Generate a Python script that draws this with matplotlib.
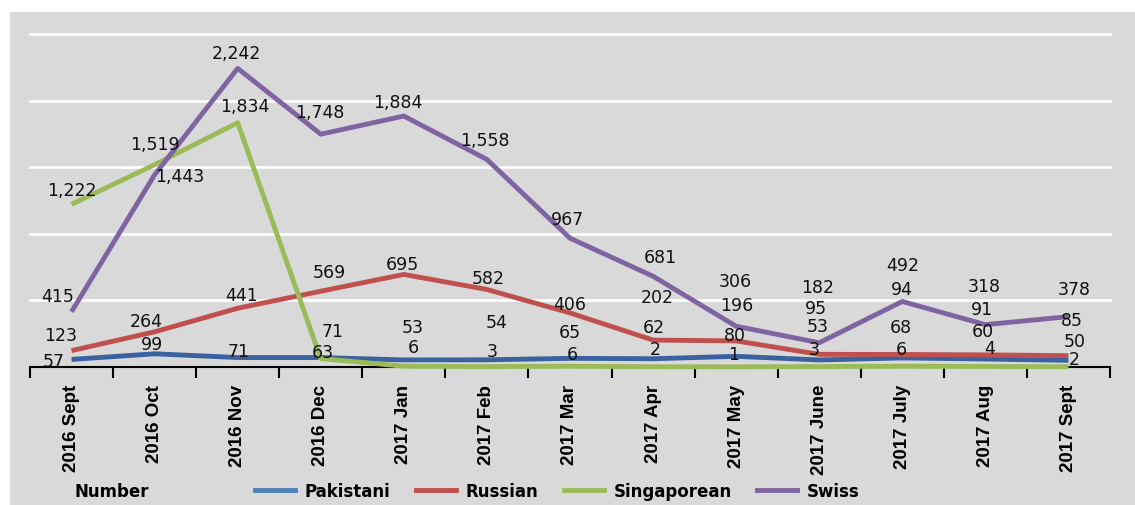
import matplotlib
matplotlib.use('Agg')
import matplotlib.pyplot as plt
from matplotlib.lines import Line2D
from matplotlib.patches import Rectangle

# ---------------- data ----------------
months = ["2016 Sept", "2016 Oct", "2016 Nov", "2016 Dec", "2017 Jan", "2017 Feb",
          "2017 Mar", "2017 Apr", "2017 May", "2017 June", "2017 July", "2017 Aug",
          "2017 Sept"]
pakistani = [57, 99, 71, 71, 53, 54, 65, 62, 80, 53, 68, 60, 50]
russian = [123, 264, 441, 569, 695, 582, 406, 202, 196, 95, 94, 91, 85]
singaporean = [1222, 1519, 1834, 63, 6, 3, 6, 2, 1, 3, 6, 4, 2]
swiss = [415, 1443, 2242, 1748, 1884, 1558, 967, 681, 306, 182, 492, 318, 378]
series_names = ["Pakistani", "Russian", "Singaporean", "Swiss"]

# ---------------- label offsets (pixels) ----------------
pak_off = [(-18, -2), (-3, 10), (1, 7), (12, 27), (9, 33), (10, 38), (0, 26),
           (1, 32), (-1, 21), (-2, 34), (-1, 31), (-3, 28), (6, 19)]
rus_off = [(-11, 16), (-8, 11), (4, 13), (9, 19), (-1, 10), (1, 11), (0, 9),
           (4, 43), (1, 36), (-3, 46), (0, 65), (-3, 46), (3, 36)]
sin_off = [(0, 14), (0, 21), (7, 17), (2, 7), (9, 19), (5, 16), (2, 12),
           (2, 18), (-3, 13), (-5, 18), (-1, 17), (4, 18), (6, 8)]
swi_off = [(-14, 16), (25, -1), (-1, 15), (-1, 22), (-6, 14), (-2, 19), (-3, 19),
           (7, 19), (-1, 45), (-2, 56), (0, 36), (-1, 39), (6, 28)]

line_colors = ["#3a62a0", "#c0504d", "#9bbb59", "#8064a2"]
legend_colors = ["#4f81bd", "#c0504d", "#9bbb59", "#8064a2"]
panel_grey = "#d9d9d9"

W, H = 1135, 506
fig = plt.figure(figsize=(W / 100, H / 100), dpi=100)
fig.patch.set_facecolor("white")
fig.patches.append(Rectangle((10 / W, 0), 1, (H - 13) / H, transform=fig.transFigure,
                             facecolor=panel_grey, edgecolor="none", zorder=-10))

ax = fig.add_axes([30 / W, 138 / H, 1080 / W, 333 / H])
ax.set_zorder(1)
ax.set_facecolor("none")
ax.set_xlim(0, len(months))
ax.set_ylim(0, 2500)

xs = [i + 0.5 for i in range(len(months))]

# gridlines
ax.set_yticks([500, 1000, 1500, 2000, 2500])
ax.yaxis.grid(True, color="white", linewidth=2)
for gl in ax.get_ygridlines():
    gl.set_clip_on(False)
ax.tick_params(axis="y", left=False, labelleft=False)
ax.set_axisbelow(True)

for side in ["left", "right", "top"]:
    ax.spines[side].set_visible(False)
ax.spines["bottom"].set_color("black")
ax.spines["bottom"].set_linewidth(1.5)

ax.set_xticks(range(len(months) + 1))
ax.set_xticklabels([])
ax.tick_params(axis="x", which="major", length=8, width=1.5, color="black", direction="out")
ax.set_xticks(xs, minor=True)
ax.set_xticklabels(months, minor=True, rotation=90, fontsize=13.5, fontweight="bold",
                   family=["Liberation Sans", "DejaVu Sans"], va="top", ha="center")
ax.tick_params(axis="x", which="minor", length=0, pad=12)

all_series = [pakistani, russian, singaporean, swiss]
all_offsets = [pak_off, rus_off, sin_off, swi_off]
for vals, col, name in zip(all_series, line_colors, series_names):
    ax.plot(xs, vals, color=col, linewidth=3.5, solid_joinstyle="round",
            solid_capstyle="butt", label=name, zorder=3, clip_on=False)

for vals, offs in zip(all_series, all_offsets):
    for x, v, (dx, dy) in zip(xs, vals, offs):
        ax.annotate(f"{v:,}", (x, v), xytext=(dx, dy), textcoords="offset pixels",
                    ha="center", va="center", fontsize=12.5, color="#111111",
                    family="DejaVu Sans", zorder=5, annotation_clip=False)

# legend row
fig.text(112 / W, 14 / H, "Number", ha="center", va="center", fontsize=12,
         fontweight="bold", family="DejaVu Sans")
handles = [Line2D([], [], color=c, linewidth=3.5) for c in legend_colors]
fig.legend(handles, series_names, loc="center left", bbox_to_anchor=(255 / W, 14 / H),
           ncol=4, frameon=False, handlelength=2.4, handletextpad=0.6,
           columnspacing=1.5, borderpad=0, borderaxespad=0,
           prop=dict(family="DejaVu Sans", weight="bold", size=12))

fig.savefig("out.png", dpi=100, facecolor=fig.get_facecolor())
